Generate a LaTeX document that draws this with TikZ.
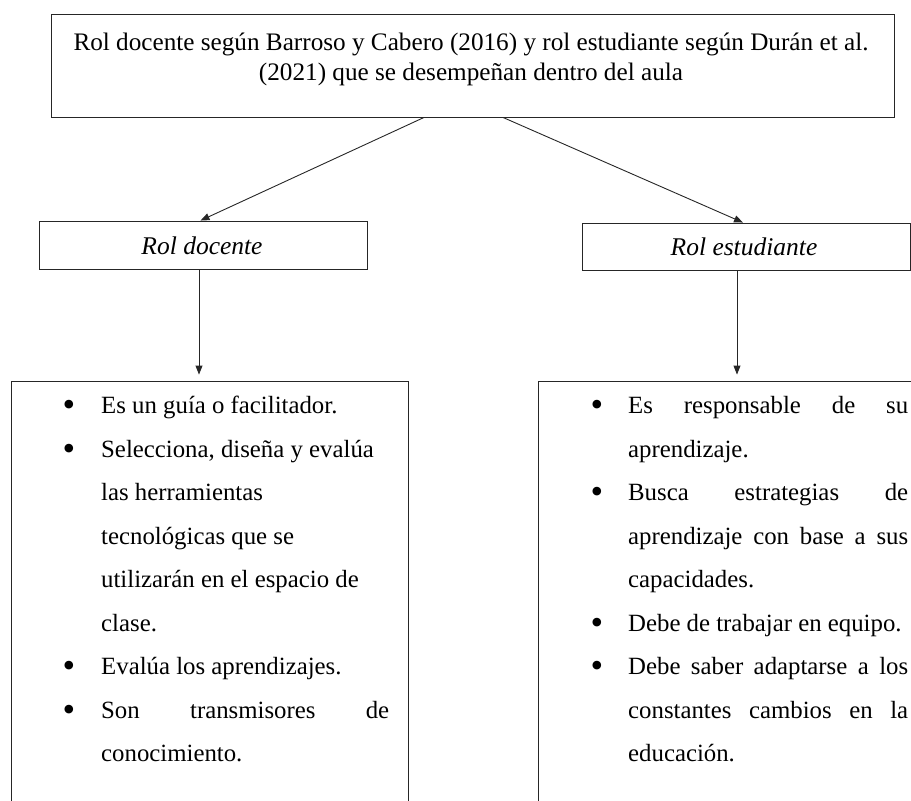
\documentclass[tikz,border=0pt]{standalone}
\usepackage{fontspec}
\setmainfont{Liberation Serif}
\usetikzlibrary{arrows.meta}
\newcommand{\fsz}{\fontsize{24.8}{30}\selectfont}
\newcommand{\bsz}{\fontsize{36}{40}\selectfont}
\tikzset{
  boxstyle/.style={draw=black!85, line width=0.9pt, inner sep=0pt},
  arr/.style={draw=black!85, line width=0.9pt, -{Triangle[length=9pt,width=7pt]}},
  ln/.style={anchor=base west, inner sep=0pt, font=\fsz},
  bul/.style={anchor=base, inner sep=0pt, font=\bsz, yshift=-3pt},
  ctr/.style={anchor=base, inner sep=0pt, font=\fsz}
}
\begin{document}
\begin{tikzpicture}[x=1pt,y=-1pt]
\useasboundingbox (0,0) rectangle (911,801);
\clip (0,0) rectangle (911,801);
% boxes
\node[boxstyle, minimum width=843pt, minimum height=103pt] (title) at (472.5,65.5) {};
\node[ctr, font=\fontsize{25.2}{30}\selectfont] (tl1) at (471,50.7) {Rol docente según Barroso y Cabero (2016) y rol estudiante según Durán et al.};
\node[ctr, font=\fontsize{25.2}{30}\selectfont] (tl2) at (471,80) {(2021) que se desempeñan dentro del aula};
\node[boxstyle, minimum width=327.5pt, minimum height=48pt] (docente) at (203.5,245) {};
\node[ctr, font=\fontsize{25.5}{30}\selectfont] (dtxt) at (202,254) {\itshape Rol docente};
\node[boxstyle, minimum width=328pt, minimum height=47pt] (estud) at (746,246.5) {};
\node[ctr, font=\fontsize{25.5}{30}\selectfont] (etxt) at (744,255.5) {\itshape Rol estudiante};
\node[boxstyle, minimum width=397pt, minimum height=449pt] (lbox) at (209.5,605.5) {};
\node[boxstyle, minimum width=402pt, minimum height=449pt] (rbox) at (739,605.5) {};
% connectors
\coordinate (ta) at ([xshift=-48.5pt]title.south);
\coordinate (tb) at ([xshift=30.5pt]title.south);
\draw[arr] (ta) -- ([xshift=-3pt]docente.north);
\draw[arr] (tb) -- ([xshift=-3pt]estud.north);
\draw[arr, shorten >=6pt] ([xshift=-4.5pt]docente.south) -- ([xshift=-4.5pt]docente.south |- lbox.north);
\draw[arr, shorten >=6pt] ([xshift=-9pt]estud.south) -- ([xshift=-9pt]estud.south |- rbox.north);
% left list
\node[bul] (lb1) at (69,413.8) {•};
\node[bul] (lb2) at (69,457.3) {•};
\node[bul] (lb3) at (69,674.8) {•};
\node[bul] (lb4) at (69,718.3) {•};
\node[ln] (l1) at (101,413.8) {Es un guía o facilitador.};
\node[ln] (l2) at (101,457.3) {Selecciona, diseña y evalúa};
\node[ln] (l3) at (101,500.8) {las herramientas};
\node[ln] (l4) at (101,544.3) {tecnológicas que se};
\node[ln] (l5) at (101,587.8) {utilizarán en el espacio de};
\node[ln] (l6) at (101,631.3) {clase.};
\node[ln] (l7) at (101,674.8) {Evalúa los aprendizajes.};
\node[ln] (l8) at (101,718.3) {\makebox[288pt][s]{Son transmisores de}};
\node[ln] (l9) at (101,761.8) {conocimiento.};
% right list
\node[bul] (rb1) at (597,413.8) {•};
\node[bul] (rb2) at (597,500.8) {•};
\node[bul] (rb3) at (597,631.3) {•};
\node[bul] (rb4) at (597,674.8) {•};
\node[ln] (r1) at (628,413.8) {\makebox[280pt][s]{Es responsable de su}};
\node[ln] (r2) at (628,457.3) {aprendizaje.};
\node[ln] (r3) at (628,500.8) {\makebox[280pt][s]{Busca estrategias de}};
\node[ln] (r4) at (628,544.3) {\makebox[280pt][s]{aprendizaje con base a sus}};
\node[ln] (r5) at (628,587.8) {capacidades.};
\node[ln] (r6) at (628,631.3) {Debe de trabajar en equipo.};
\node[ln] (r7) at (628,674.8) {\makebox[280pt][s]{Debe saber adaptarse a los}};
\node[ln] (r8) at (628,718.3) {\makebox[280pt][s]{constantes cambios en la}};
\node[ln] (r9) at (628,761.8) {educación.};
\end{tikzpicture}
\end{document}
